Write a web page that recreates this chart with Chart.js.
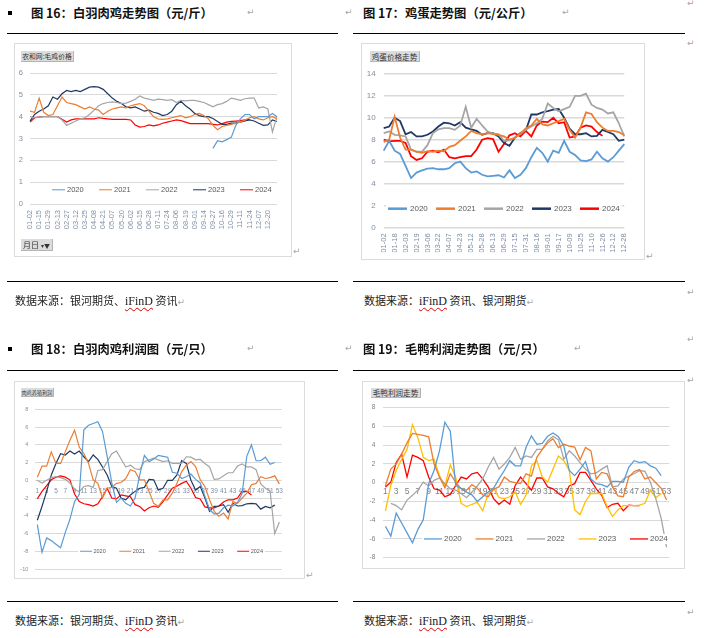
<!DOCTYPE html>
<html lang="zh-CN">
<head>
<meta charset="utf-8">
<title>白羽肉鸡 / 鸡蛋 / 利润走势</title>
<script src="https://cdn.jsdelivr.net/npm/chart.js@4.4.1/dist/chart.umd.min.js"></script>
<style>
  html, body { margin: 0; padding: 0; background: #fff; }
  body { width: 724px; height: 638px; position: relative; overflow: hidden; font-family: "Noto Sans CJK SC", sans-serif; }
  .abs { position: absolute; white-space: nowrap; }
  .title { font-weight: 700; font-size: 12.3px; line-height: 14px; color: #111; }
  .bullet { width: 4px; height: 4px; background: #000; }
  .caption { font-size: 11px; line-height: 14px; color: #222; }
  .caption .spell { font-family: "Liberation Serif", serif; font-size: 12px; text-decoration: underline wavy #e00000; text-decoration-thickness: 1px; text-underline-offset: 2px; }
  .rule { height: 1px; background: #000; }
  .mark { color: #a6a6a6; font-family: "DejaVu Sans", sans-serif; font-size: 9px; line-height: 10px; }
  .frame { border: 1px solid #dcdcdc; box-sizing: border-box; background: #fff; }
  .btn { background: #dcdcdc; border-right: 1px solid #b4b4b4; border-bottom: 1px solid #b4b4b4; color: #333; box-sizing: border-box; text-align: center; overflow: hidden; }
  canvas { position: absolute; }
</style>
</head>
<body>

<!-- 图16 -->
<div class="abs bullet" style="left:8px;top:11px;"></div>
<div class="abs title" style="left:31px;top:6px;">图 16：白羽肉鸡走势图（元/斤）</div>
<div class="abs mark" style="left:247px;top:7px;">↵</div>
<div class="abs mark" style="left:345px;top:7px;">↵</div>
<div class="abs rule" style="left:7px;top:33px;width:331px;"></div>
<div class="abs frame" style="left:14px;top:43px;width:278px;height:214px;"></div>
<canvas id="broilerChart" width="278" height="214" style="left:14px;top:43px;"></canvas>
<div class="abs btn" style="left:21px;top:51px;width:53px;height:11px;font-size:6.8px;line-height:11px;">农和网:毛鸡价格</div>
<div class="abs btn" style="left:21px;top:239px;width:32px;height:12px;font-size:8px;line-height:12px;">月日 <span style="font-size:6px;">▾▼</span></div>
<div class="abs mark" style="left:293px;top:246px;">↵</div>
<div class="abs rule" style="left:7px;top:281px;width:331px;"></div>
<div class="abs caption" style="left:15px;top:293px;">数据来源：银河期货、<span class="spell">iFinD</span> 资讯<span class="mark">↵</span></div>

<!-- 图17 -->
<div class="abs title" style="left:363px;top:6px;">图 17：鸡蛋走势图（元/公斤）</div>
<div class="abs mark" style="left:562px;top:7px;">↵</div>
<div class="abs mark" style="left:687px;top:-2px;">↵</div>
<div class="abs rule" style="left:353px;top:33px;width:332px;"></div>
<div class="abs mark" style="left:687px;top:38px;">↵</div>
<div class="abs frame" style="left:361px;top:43px;width:284px;height:217px;"></div>
<canvas id="eggChart" width="284" height="224" style="left:361px;top:43px;"></canvas>
<div class="abs btn" style="left:370px;top:51px;width:50px;height:11px;font-size:7.6px;line-height:11px;">鸡蛋价格走势</div>
<div class="abs mark" style="left:646px;top:251px;">↵</div>
<div class="abs rule" style="left:353px;top:281px;width:332px;"></div>
<div class="abs mark" style="left:687px;top:287px;">↵</div>
<div class="abs caption" style="left:364px;top:293px;">数据来源：<span class="spell">iFinD</span> 资讯、银河期货<span class="mark">↵</span></div>

<!-- 图18 -->
<div class="abs bullet" style="left:8px;top:347px;"></div>
<div class="abs title" style="left:31px;top:342px;">图 18：白羽肉鸡利润图（元/只）</div>
<div class="abs mark" style="left:247px;top:343px;">↵</div>
<div class="abs mark" style="left:345px;top:343px;">↵</div>
<div class="abs rule" style="left:7px;top:370px;width:331px;"></div>
<div class="abs frame" style="left:14px;top:381px;width:291px;height:198px;"></div>
<canvas id="profitChart" width="291" height="198" style="left:14px;top:381px;"></canvas>
<div class="abs btn" style="left:21px;top:388px;width:33px;height:9px;font-size:5.2px;line-height:9px;">肉鸡养殖利润</div>
<div class="abs mark" style="left:306px;top:570px;">↵</div>
<div class="abs rule" style="left:7px;top:601px;width:331px;"></div>
<div class="abs caption" style="left:15px;top:613px;">数据来源：银河期货、<span class="spell">iFinD</span> 资讯<span class="mark">↵</span></div>

<!-- 图19 -->
<div class="abs title" style="left:363px;top:342px;">图 19：毛鸭利润走势图（元/只）</div>
<div class="abs mark" style="left:574px;top:343px;">↵</div>
<div class="abs mark" style="left:687px;top:334px;">↵</div>
<div class="abs rule" style="left:353px;top:370px;width:332px;"></div>
<div class="abs mark" style="left:687px;top:375px;">↵</div>
<div class="abs frame" style="left:362px;top:381px;width:323px;height:188px;"></div>
<canvas id="duckChart" width="323" height="188" style="left:362px;top:381px;"></canvas>
<div class="abs btn" style="left:371px;top:388px;width:50px;height:10px;font-size:7.6px;line-height:10px;">毛鸭利润走势</div>
<div class="abs rule" style="left:353px;top:601px;width:332px;"></div>
<div class="abs mark" style="left:687px;top:607px;">↵</div>
<div class="abs caption" style="left:364px;top:613px;">数据来源：<span class="spell">iFinD</span> 资讯、银河期货<span class="mark">↵</span></div>

<script>
// === DATA ===

const years = ['2020', '2021', '2022', '2023', '2024'];

// 图16 白羽肉鸡价格（元/斤），约每周一点
const broilerDays = [
  '01-02','01-08','01-15','01-22','01-29','02-06','02-13','02-20','02-27','03-05',
  '03-12','03-18','03-25','04-01','04-08','04-14','04-21','04-28','05-07','05-13',
  '05-20','05-26','06-02','06-08','06-15','06-21','06-28','07-04','07-11','07-17',
  '07-24','07-31','08-06','08-12','08-19','08-26','09-01','09-07','09-14','09-20',
  '09-27','10-09','10-16','10-22','10-29','11-04','11-11','11-17','11-24','11-30',
  '12-07','12-13','12-20','12-26','12-31'
];
const broiler2020 = [
  null, null, null, null, null, null, null, null, null, null,
  null, null, null, null, null, null, null, null, null, null,
  null, null, null, null, null, null, null, null, null, null,
  null, null, null, null, null, null, null, null, null, null,
  2.55, 2.9, 2.85, 2.95, 3.05, 3.6, 3.9, 4.1, 4.1, 3.9,
  4.0, 4.0, 4.0, 4.15, 4.0
];
const broiler2021 = [
  4.25, 4.2, 4.85, 4.2, 4.05, 4.1, 4.5, 4.9, 4.65, 4.6,
  4.55, 4.45, 4.35, 4.45, 4.35, 4.3, 4.1, 4.25, 4.35, 4.4,
  4.45, 4.4, 4.5, 4.55, 4.6, 4.5, 4.25, 4.0, 3.9, 3.88,
  3.9, 3.95, 4.0, 4.05, 3.95, 4.0, 4.1, 4.15, 4.05, 3.9,
  3.6, 3.4, 3.55, 3.6, 3.65, 3.7, 3.75, 3.85, 3.95, 4.0,
  3.9, 3.85, 3.95, 4.0, 3.9
];
const broiler2022 = [
  4.0, 3.95, 3.98, 4.0, 4.0, 4.0, 4.0, 3.85, 3.6, 3.7,
  3.8, 3.9, 3.95, 4.1, 4.3, 4.5, 4.6, 4.65, 4.68, 4.65,
  4.6, 4.62, 4.7, 4.8, 4.95, 4.85, 4.8, 4.75, 4.8, 4.78,
  4.75, 4.78, 4.65, 4.75, 4.72, 4.75, 4.75, 4.7, 4.65, 4.55,
  4.45, 4.55, 4.6, 4.7, 4.85, 4.8, 4.75, 4.82, 4.85, 4.85,
  4.4, 4.45, 4.35, 3.3, 4.0
];
const broiler2023 = [
  3.8, 4.1, 4.25, 4.35, 4.5, 4.9, 4.8, 5.05, 5.2, 5.15,
  5.2, 5.15, 5.25, 5.35, 5.38, 5.35, 5.25, 5.05, 4.85, 4.7,
  4.6, 4.45, 4.4, 4.45, 4.35, 4.25, 4.3, 4.2, 4.15, 4.05,
  4.1, 4.25, 4.55, 4.7, 4.5, 4.35, 4.15, 4.05, 4.0, 4.0,
  3.92, 3.78, 3.65, 3.65, 3.7, 3.72, 3.75, 3.8, 3.85, 3.8,
  3.7, 3.6, 3.62, 3.85, 3.78
];
const broiler2024 = [
  3.75, 3.95, 3.98, 4.0, 4.0, 4.0, 4.0, 3.88, 3.75, 3.85,
  3.9, 3.9, 3.9, 3.9, 3.9, 3.95, 3.92, 3.9, 3.88, 3.88,
  3.88, 3.88, 3.85, 3.62, 3.52, 3.55, 3.62, 3.58, 3.62, 3.7,
  3.75, 3.8, 3.85, 3.82, 3.75, 3.68, 3.68, 3.68, 3.68, 3.68,
  3.65, 3.62, 3.68, 3.75, 3.78, 3.8, 3.82, 3.85, 3.88, null,
  null, null, null, null, null
];

// 图17 鸡蛋价格（元/公斤）
const eggDays = [
  '01-02','01-10','01-18','01-26','02-03','02-11','02-19','02-27','03-06','03-14',
  '03-22','03-30','04-07','04-15','04-23','05-04','05-12','05-20','05-28','06-05',
  '06-13','06-21','06-29','07-07','07-15','07-23','07-31','08-08','08-16','08-24',
  '09-01','09-09','09-17','09-27','10-09','10-17','10-25','11-02','11-10','11-18',
  '11-26','12-04','12-12','12-20','12-28'
];
const egg2020 = [
  7.0, 7.9, 7.0, 6.7, 5.6, 4.5, 5.0, 5.2, 5.35, 5.4,
  5.3, 5.3, 5.4, 5.85, 6.0, 5.4, 5.0, 5.1, 4.8, 4.65,
  4.7, 4.75, 4.55, 5.2, 4.5, 4.8, 5.4, 6.4, 7.25, 6.8,
  6.0, 7.0, 6.8, 7.9, 6.9, 6.6, 6.1, 6.05, 6.2, 6.9,
  6.3, 6.0, 6.4, 7.0, 7.6
];
const egg2021 = [
  7.8, 8.0, 10.1, 8.2, 7.1, 7.1, 6.9, 6.8, 6.95, 6.9,
  7.0, 6.95, 7.35, 7.5, 7.9, 8.3, 8.8, 8.6, 8.5, 8.6,
  8.5, 8.45, 8.3, 8.0, 8.15, 8.55, 9.05, 9.3, 9.9, 9.4,
  9.3, 9.5, 9.7, 9.9, 8.9, 8.2, 9.1, 10.5, 10.35, 9.6,
  9.1, 8.8, 8.8, 8.7, 8.4
];
const egg2022 = [
  8.6, 8.75, 8.45, 8.4, 8.3, 7.1, 6.9, 6.9, 7.5, 8.6,
  8.95, 9.05, 9.05, 8.9, 9.3, 11.0, 9.1, 9.9, 9.3, 8.75,
  8.55, 8.5, 7.9, 7.95, 8.2, 8.55, 8.9, 9.2, 9.5, 9.9,
  11.3, 10.9, 10.6, 10.8, 11.0, 12.0, 12.0, 12.2, 11.2, 10.9,
  10.75, 10.4, 10.5, 9.5, 8.3
];
const egg2023 = [
  9.05, 9.2, 10.0, 9.7, 8.5, 8.7, 8.3, 8.3, 8.45, 8.75,
  9.2, 9.55, 9.5, 9.3, 9.6, 9.1, 8.95, 8.8, 8.45, 8.6,
  8.6, 8.3, 7.7, 7.45, 8.2, 8.6, 8.85, 10.3, 10.3, 10.5,
  10.6, 10.75, 10.8, 10.0, 9.0, 8.5, 8.5, 8.6, 8.3, 8.35,
  8.9, 8.7, 8.5, 7.9, 8.0
];
const egg2024 = [
  8.0, 7.85, 7.9, 7.9, 7.7, 6.5, 6.15, 6.3, 6.9, 7.0,
  6.85, 7.1, 6.4, 6.3, 6.4, 6.5, 6.5, 7.1, 8.0, 8.15,
  8.05, 6.9, 7.6, 8.4, 8.6, 8.3, 8.8, 8.3, 9.3, 9.65,
  9.6, 10.0, 9.5, 9.6, 8.2, 8.3, 9.1, 9.3, 9.2, 8.7,
  8.35, null, null, null, null
];

// 图18 白羽肉鸡养殖利润（元/只），按周
const profitWeeks = [
  1, 2, 3, 4, 5, 6, 7, 8, 9, 10, 11, 12, 13, 14, 15, 16, 17, 18, 19, 20,
  21, 22, 23, 24, 25, 26, 27, 28, 29, 30, 31, 32, 33, 34, 35, 36, 37, 38, 39, 40,
  41, 42, 43, 44, 45, 46, 47, 48, 49, 50, 51, 52, 53
];
const profit2020 = [
  -5.0, -8.1, -6.5, -6.8, -7.2, -7.6, -5.9, -4.4, -2.4, -1.6,
  5.7, 6.2, 6.4, 6.6, 5.5, 2.7, -0.3, -2.5, -2.0, -2.6,
  -2.9, -2.0, 0.6, 2.8, 2.1, 2.4, 2.8, 2.7, 2.6, 0.9,
  0.8, 0.2, 0.4, 0.7, 0.1, -0.3, -1.8, -3.3, -3.8, -3.7,
  -3.1, -2.8, -2.9, -2.5, -1.5, 2.7, 4.0, 2.2, 2.2, 2.6,
  1.8, 2.0, null
];
const profit2021 = [
  0.35, 1.6, 1.6, 3.2, 1.9, 1.9, 3.2, 4.5, 5.65, 3.75,
  3.0, 1.9, 0.05, -0.35, -2.0, -0.9, -0.8, -0.35, -0.25, 0.2,
  1.2, 1.0, 0.05, 0.05, -1.25, -2.6, -2.95, -2.2, -2.2, -1.45,
  -0.35, 0.95, 1.7, 2.1, 1.55, 0.05, -0.7, -2.2, -3.5, -4.05,
  -3.7, -4.35, -2.4, -2.6, -2.0, -1.45, -0.5, -0.35, 0.4, 0.2,
  0.3, 0.5, -0.4
];
const profit2022 = [
  0.0, -0.3, 0.0, 0.3, 0.4, 0.3, 0.1, -0.3, -1.0, -1.3,
  -0.7, -0.6, -0.8, 1.1, 1.2, 2.1, 3.0, 3.3, 2.4, 1.5,
  1.7, 1.3, 1.2, 2.1, 2.3, 2.5, 2.3, 2.1, 2.2, 1.9,
  1.9, 1.9, 2.65, 2.6, 2.3, 2.35, 1.9, 1.5, 0.1, 0.15,
  0.5, 0.85, 0.85, 1.6, 1.85, 1.5, 1.5, 1.2, -0.4, -0.9,
  -1.2, -6.0, -4.7
];
const profit2023 = [
  -4.5, -2.95, -1.25, 0.6, 1.9, 3.0, 2.85, 3.3, 2.95, 3.3,
  2.65, 2.1, 2.85, 2.35, 1.5, 0.6, -0.7, -0.9, -2.0, -2.2,
  -1.65, -1.25, -0.9, -0.8, 0.1, 0.05, -1.1, -0.9, 0.0, 0.0,
  0.6, 2.2, 1.9, 0.0, -1.1, -0.7, -2.0, -3.5, -2.95, -2.9,
  -2.75, -3.6, -2.6, -2.9, -2.85, -2.65, -2.6, -2.65, -3.25, -2.95,
  -3.1, -2.8, null
];
const profit2024 = [
  -2.1, -1.25, -0.6, 0.05, 0.35, 0.5, 0.35, 0.05, -1.55, -2.4,
  -2.65, -2.75, -2.9, -2.65, -1.85, -0.9, -2.0, -2.1, -1.65, -1.75,
  -1.85, -2.75, -2.95, -3.45, -3.1, -2.9, -3.05, -2.4, -1.65, -0.9,
  -0.65, -0.35, -0.1, -0.9, -1.95, -2.1, -3.0, -3.1, -3.1, -2.9,
  -2.45, -2.2, -2.2, -2.0, -1.25, -1.25, -1.65, null, null, null,
  null, null, null
];

// 图19 毛鸭利润（元/只），按周
const duckWeeks = profitWeeks;
const duck2020 = [
  -4.65, -5.7, -3.25, -4.3, -5.35, -6.4, -5.0, -3.95, -0.1, 1.3,
  3.4, 6.45, 5.5, -0.3, -0.6, -1.0, -1.3, -2.0, -1.5, -1.0,
  -0.6, 0.4, 1.3, 2.35, 1.8, 1.8, 3.75, 5.0, 4.1, 4.2,
  4.95, 5.3, 4.9, 3.9, 1.3, 0.75, 1.45, 2.25, 0.4, -0.1,
  -0.2, -0.45, 0.15, 0.15, 0.05, 1.65, 2.35, 2.15, 2.25, 1.8,
  1.55, 0.75, null
];
const duck2021 = [
  -0.35, 1.45, 2.0, 3.05, 4.25, 5.25, 5.15, 5.05, 4.9, 2.0,
  0.6, -0.55, 0.95, 0.05, -0.65, -0.8, -0.2, -0.6, -1.3, -1.5,
  -0.7, -0.45, 0.6, 0.15, 0.0, -0.1, 0.95, 0.7, 2.7, 3.55,
  4.25, 4.7, 3.75, 4.1, 3.9, 3.8, 2.45, 3.75, 3.4, 0.4,
  1.1, 0.95, -0.45, -1.4, -1.5, 0.6, 1.2, 1.4, 0.4, 0.6,
  0.0, -0.6, -1.85
];
const duck2022 = [
  null, -2.2, -2.45, -2.9, -1.85, -1.35, -0.8, 0.05, -0.35, 0.25,
  0.5, -0.1, -0.65, -0.8, -1.15, -1.6, -1.0, -0.35, 0.4, 1.65,
  2.7, 1.45, 2.0, 2.7, 3.75, 2.5, 2.85, 2.7, 3.55, 3.55,
  4.45, 4.95, 4.6, 2.5, 3.4, 2.85, 2.15, 1.45, 0.95, 1.05,
  1.45, 1.8, -0.45, -0.35, 0.4, 0.7, 0.95, 1.3, 1.2, 0.05,
  -1.7, -3.8, -6.9
];
const duck2023 = [
  -3.0, -0.3, 1.3, 2.5, 3.55, 6.2, 4.8, 2.7, 2.35, 2.5,
  0.75, -0.35, 1.9, 0.6, -2.2, -2.55, -2.3, -2.1, -3.0, -1.15,
  -0.55, -1.6, -1.7, -1.5, -1.0, -2.3, -1.35, 1.8, 2.35, 0.6,
  0.05, 1.45, 2.85, 2.35, 1.3, -2.9, -3.4, -2.0, -1.15, -1.15,
  -1.15, -2.55, -3.6, -2.9, -2.45, -2.45, -2.45, -2.4, -2.2, -0.8,
  -1.6, -1.15, null
];
const duck2024 = [
  -0.45, 0.05, 2.15, 3.05, 0.6, 2.95, 2.7, 2.35, 0.6, -0.65,
  -0.8, -1.5, -1.25, -0.3, 0.6, 0.4, 0.95, 1.1, 0.4, -0.45,
  -1.7, -2.3, -1.85, -2.3, -0.3, 0.6, -0.1, -0.8, 0.5, 0.5,
  -0.45, -0.65, -1.15, -1.5, -0.35, -0.1, 1.1, 1.1, 0.25, -0.65,
  -1.35, -2.65, -2.3, -2.2, -3.0, -2.4, -2.45, -2.45, null, null,
  null, null, null
];

// === STYLE ===

const GRID = '#d9d9d9';
const TICK = '#7f8fa6';
const NAVY_SET = ['#5b9bd5', '#ed7d31', '#a5a5a5', '#203864', '#ff0000'];
const GOLD_SET = ['#5b9bd5', '#ed7d31', '#a5a5a5', '#ffc000', '#ff0000'];

Chart.defaults.font.family = '"Liberation Sans", Arial, sans-serif';

// Excel-style legend drawn inside the plot at a given y value
const inlineLegend = {
  id: 'inlineLegend',
  afterDraw(chart, args, opts) {
    const { ctx } = chart;
    const y = chart.scales.y.getPixelForValue(opts.value);
    ctx.save();
    ctx.font = opts.size + 'px "Liberation Sans", Arial, sans-serif';
    ctx.textBaseline = 'middle';
    const sets = chart.data.datasets;
    if (opts.clear) {
      const last = opts.x + (sets.length - 1) * opts.step + opts.len + opts.gap;
      const w = last + ctx.measureText(sets[sets.length - 1].label).width - opts.x + 4;
      ctx.fillStyle = '#fff';
      ctx.fillRect(opts.x - 2, y - opts.size / 2 - 1, w, opts.size + 2);
    }
    sets.forEach((ds, i) => {
      const x = opts.x + i * opts.step;
      ctx.strokeStyle = ds.borderColor;
      ctx.lineWidth = opts.lineWidth;
      ctx.beginPath();
      ctx.moveTo(x, y);
      ctx.lineTo(x + opts.len, y);
      ctx.stroke();
      ctx.fillStyle = '#595959';
      ctx.fillText(ds.label, x + opts.len + opts.gap, y);
    });
    ctx.restore();
  }
};

function dateAxis(lastTick, size, height, pad) {
  return {
    grid: { display: false, drawTicks: false },
    border: { display: false },
    afterFit: s => { s.height = height; },
    ticks: {
      autoSkip: false, minRotation: 90, maxRotation: 90, padding: pad,
      color: TICK, font: { size },
      callback(v, i) { return i % 2 === 0 && i <= lastTick ? this.getLabelForValue(v) : ''; }
    }
  };
}

function weekAxis(size, pad, color) {
  return {
    position: { y: 0 },
    offset: true,
    grid: { display: false, drawTicks: false },
    border: { display: false },
    ticks: {
      autoSkip: false, minRotation: 0, maxRotation: 0, padding: pad,
      color, font: { size },
      callback(v, i) { return i % 2 === 0 ? this.getLabelForValue(v) : ''; }
    }
  };
}

function valueAxis(min, max, step, width, pad, size, color, gridWidth) {
  return {
    min, max,
    grid: { color: GRID, lineWidth: gridWidth, drawTicks: false },
    border: { display: false },
    afterFit: s => { s.width = width; },
    ticks: { stepSize: step, padding: pad, color, font: { size } }
  };
}

function buildChart(id, labels, series, colors, lineWidth, padding, x, y, legend) {
  return new Chart(document.getElementById(id), {
    type: 'line',
    data: {
      labels,
      datasets: series.map((data, i) => ({
        label: years[i],
        data,
        borderColor: colors[i],
        backgroundColor: colors[i],
        borderWidth: lineWidth,
        pointRadius: 0,
        pointHoverRadius: 0,
        tension: 0,
        fill: false
      }))
    },
    options: {
      responsive: false,
      animation: false,
      events: [],
      layout: { padding },
      plugins: { legend: { display: false }, tooltip: { enabled: false }, inlineLegend: legend },
      scales: { x, y }
    },
    plugins: [inlineLegend]
  });
}

// === CHARTS ===

buildChart('broilerChart', broilerDays,
  [broiler2020, broiler2021, broiler2022, broiler2023, broiler2024], NAVY_SET, 1.2,
  { left: 0, right: 15, top: 30, bottom: 23 },
  dateAxis(52, 7.5, 30, 6),
  valueAxis(0, 6, 1, 16, 7, 7.5, TICK, 1),
  { value: 0.65, x: 38, step: 47, len: 13, gap: 2, size: 7.5, lineWidth: 1, clear: false });

buildChart('eggChart', eggDays,
  [egg2020, egg2021, egg2022, egg2023, egg2024], NAVY_SET, 1.8,
  { left: 0, right: 20.7, top: 31, bottom: 14.7 },
  dateAxis(44, 7.6, 25, 6),
  valueAxis(0, 14, 2, 22.7, 8, 8, TICK, 1.5),
  { value: 1.7, x: 27, step: 48, len: 19, gap: 3, size: 8, lineWidth: 2.5, clear: true });

buildChart('profitChart', profitWeeks,
  [profit2020, profit2021, profit2022, profit2023, profit2024], NAVY_SET, 1.2,
  { left: 0, right: 23.3, top: 28.3, bottom: 9.7 },
  weekAxis(6.5, 7, TICK),
  valueAxis(-10, 8, 2, 21, 6.7, 5.5, TICK, 1),
  { value: -8, x: 66, step: 39.3, len: 12, gap: 1.5, size: 5.5, lineWidth: 1, clear: true });

buildChart('duckChart', duckWeeks,
  [duck2020, duck2021, duck2022, duck2023, duck2024], GOLD_SET, 1.3,
  { left: 0, right: 15.7, top: 26.7, bottom: 9 },
  weekAxis(8.5, 4.2, '#808080'),
  valueAxis(-8, 8, 2, 20.7, 7.4, 6.5, '#808080', 1),
  { value: -6, x: 62, step: 51.5, len: 18, gap: 2, size: 8, lineWidth: 1.3, clear: true });
</script>
</body>
</html>
